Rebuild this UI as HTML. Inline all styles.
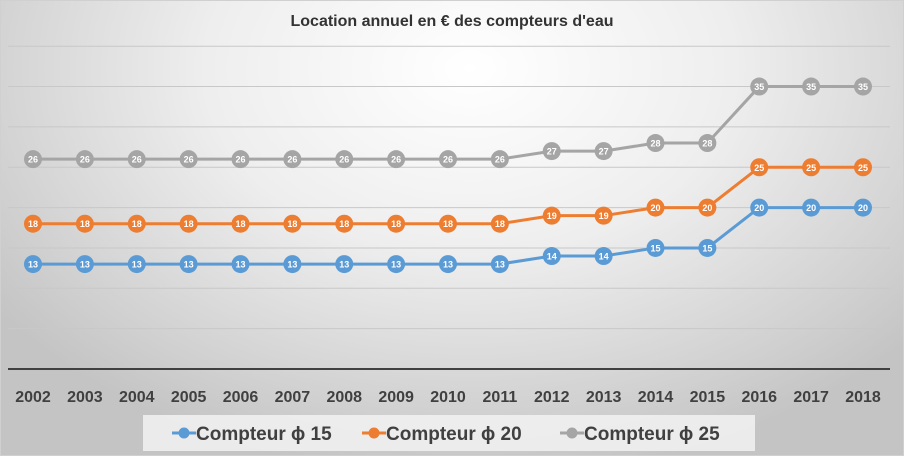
<!DOCTYPE html>
<html><head><meta charset="utf-8"><style>
html,body{margin:0;padding:0;width:904px;height:456px;overflow:hidden}
body{background:radial-gradient(ellipse 65% 90% at 52% 15%,#ffffff 0%,#eeeeee 45%,#d0d0d0 85%,#c4c4c4 100%);font-family:"Liberation Sans",sans-serif}
</style></head><body>
<svg id="chart" width="904" height="456" xmlns="http://www.w3.org/2000/svg" style="position:absolute;left:0;top:0">
<rect x="0.5" y="0.5" width="903" height="455" fill="none" stroke="#d0d0d0"/>
<text x="452" y="26" text-anchor="middle" font-size="16" font-weight="bold" fill="#333">Location annuel en € des compteurs d'eau</text>
<g id="grid"></g><g id="series"></g><g id="xlabels"></g>
<rect x="143" y="415" width="612" height="36" fill="#f2f2f2" opacity="0.85"/>
<g id="legend"></g>
</svg>
<script>
const years=["2002","2003","2004","2005","2006","2007","2008","2009","2010","2011","2012","2013","2014","2015","2016","2017","2018"];
const s15=[13,13,13,13,13,13,13,13,13,13,14,14,15,15,20,20,20];
const s20=[18,18,18,18,18,18,18,18,18,18,19,19,20,20,25,25,25];
const s25=[26,26,26,26,26,26,26,26,26,26,27,27,28,28,35,35,35];
const gridVals=[5,10,15,20,25,30,35,40];
const seriesNames=["Compteur ϕ 15","Compteur ϕ 20","Compteur ϕ 25"];
const colors=["#5b9bd5","#ed7d31","#a5a5a5"];
const NS="http://www.w3.org/2000/svg";
const x=i=>33+i*(863-33)/(years.length-1);
const y=v=>369-v*8.07;
function mk(t,a,p){const e=document.createElementNS(NS,t);for(const k in a)e.setAttribute(k,a[k]);p.appendChild(e);return e;}
const grid=document.getElementById('grid');
gridVals.forEach(v=>{const l=mk('line',{x1:8,x2:890,y1:y(v),y2:y(v),stroke:'#c8c8c8','stroke-width':1},grid);

});
const ax=mk('line',{x1:8,x2:890,y1:369,y2:369,stroke:'#404040','stroke-width':2},grid);


const xl=document.getElementById('xlabels');
years.forEach((yr,i)=>{const t=mk('text',{x:x(i),y:402,'text-anchor':'middle','font-size':16,'font-weight':'bold',fill:'#404040'},xl);t.textContent=yr;

});
const sg=document.getElementById('series');
[s15,s20,s25].forEach((d,si)=>{
 const g=mk('g',{},sg);
 
 
 const pl=mk('polyline',{points:d.map((v,i)=>x(i)+','+y(v)).join(' '),fill:'none',stroke:colors[si],'stroke-width':3},g);
 
 
 d.forEach((v,i)=>{const c=mk('circle',{cx:x(i),cy:y(v),r:9,fill:colors[si]},g);
  
  
  const t=mk('text',{x:x(i),y:y(v)+3.5,'text-anchor':'middle','font-size':9,'font-weight':'bold',fill:'#fff'},g);t.textContent=v;
  
  });
});
const lg=document.getElementById('legend');
const lx=[172,362,560];
seriesNames.forEach((n,i)=>{
 const g=mk('g',{},lg);
 
 
 mk('line',{x1:lx[i],x2:lx[i]+24,y1:433,y2:433,stroke:colors[i],'stroke-width':3},g);
 mk('circle',{cx:lx[i]+12,cy:433,r:5.5,fill:colors[i]},g);
 const t=mk('text',{x:lx[i]+24,y:440,'font-size':19,'font-weight':'bold',fill:'#404040'},g);t.textContent=n;
});
</script>
</body></html>
